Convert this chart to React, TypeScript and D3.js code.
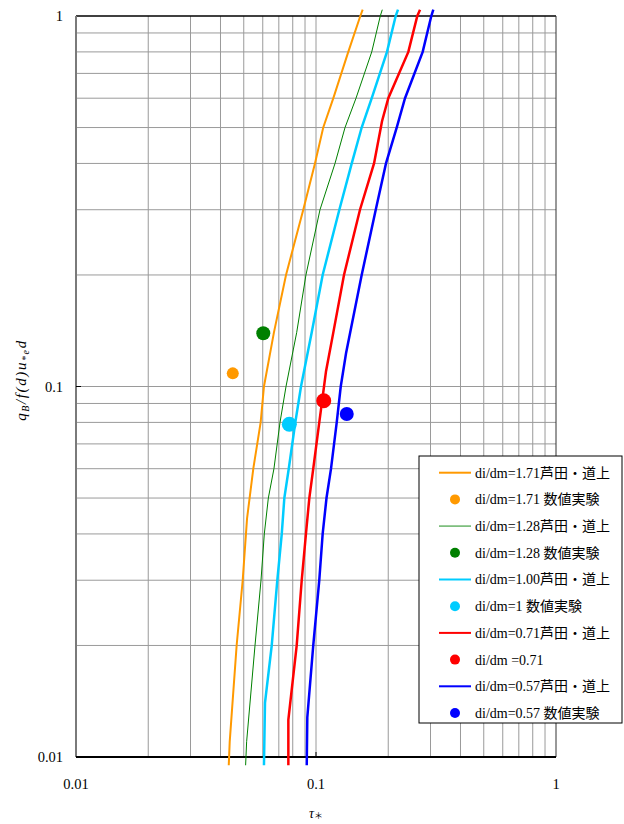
import React from "react";
import * as d3 from "d3";

// Ashida–Michiue curves for each di/dm ratio (τ*, qB/f(d)u*e d)
const TAU_171 = [0.0433, 0.0437, 0.0467, 0.0495, 0.0516, 0.0548, 0.0588, 0.0607, 0.0668, 0.075, 0.0885, 0.099, 0.1072, 0.1181, 0.1363, 0.153, 0.1565];
const QB_171 = [0.0095, 0.011, 0.02, 0.03, 0.044, 0.06, 0.08, 0.1, 0.14, 0.2, 0.3, 0.4, 0.5, 0.6, 0.8, 1.0, 1.04];

const TAU_128 = [0.0509, 0.0514, 0.0557, 0.059, 0.0609, 0.0633, 0.0668, 0.0708, 0.075, 0.0831, 0.0908, 0.1039, 0.12, 0.1321, 0.1468, 0.1707, 0.1853, 0.1889];
const QB_128 = [0.0095, 0.011, 0.02, 0.03, 0.04, 0.05, 0.06, 0.08, 0.1, 0.14, 0.2, 0.3, 0.4, 0.5, 0.6, 0.8, 1.0, 1.04];

const TAU_100 = [0.0607, 0.0613, 0.0654, 0.069, 0.072, 0.0738, 0.077, 0.082, 0.0866, 0.096, 0.1066, 0.1251, 0.1409, 0.155, 0.1707, 0.1976, 0.2148, 0.2196];
const QB_100 = [0.0095, 0.014, 0.02, 0.03, 0.04, 0.05, 0.06, 0.08, 0.1, 0.14, 0.2, 0.3, 0.4, 0.5, 0.6, 0.8, 1.0, 1.04];

const TAU_071 = [0.0767, 0.0767, 0.0831, 0.0872, 0.0908, 0.0938, 0.0974, 0.1032, 0.108, 0.1101, 0.1181, 0.1308, 0.1525, 0.1745, 0.1884, 0.2001, 0.2425, 0.2643, 0.2713];
const QB_071 = [0.0095, 0.0126, 0.02, 0.03, 0.04, 0.05, 0.06, 0.08, 0.1, 0.11, 0.14, 0.2, 0.3, 0.4, 0.52, 0.6, 0.8, 1.0, 1.04];

const TAU_057 = [0.0915, 0.092, 0.0974, 0.1032, 0.1066, 0.1106, 0.1155, 0.122, 0.1268, 0.1334, 0.155, 0.1774, 0.1957, 0.2169, 0.2349, 0.2783, 0.3023, 0.3082];
const QB_057 = [0.0095, 0.0128, 0.02, 0.03, 0.04, 0.05, 0.06, 0.08, 0.1, 0.123, 0.2, 0.3, 0.4, 0.5, 0.6, 0.8, 1.0, 1.04];

// Numerical experiment results
const EXP_TAU = [0.045, 0.0603, 0.0774, 0.1077, 0.1343];
const EXP_QB = [0.1085, 0.1392, 0.0791, 0.0915, 0.0843];

const AXIS_TICKS = [0.01, 0.1, 1];
const AXIS_TICK_LABELS = ["0.01", "0.1", "1"];

const LEGEND_LABELS = [
  "di/dm=1.71芦田・道上",
  "di/dm=1.71 数値実験",
  "di/dm=1.28芦田・道上",
  "di/dm=1.28 数値実験",
  "di/dm=1.00芦田・道上",
  "di/dm=1 数値実験",
  "di/dm=0.71芦田・道上",
  "di/dm =0.71",
  "di/dm=0.57芦田・道上",
  "di/dm=0.57 数値実験",
];

const COLORS = ["#FF9900", "#008000", "#00CCFF", "#FF0000", "#0000FF"];
const LINE_WIDTHS = [2, 1, 2.5, 2.5, 2.5];
const DOT_R = [6, 7, 7.5, 7.5, 7];

const W = 624;
const H = 824;
const PL = 76;
const PT = 16;
const PW = 480;
const PH = 741;

const FONT = "'Liberation Serif', 'Times New Roman', 'Noto Sans CJK JP', serif";

export default function App() {
  const x = d3.scaleLog().domain([0.01, 1]).range([PL, PL + PW]);
  const y = d3.scaleLog().domain([0.01, 1]).range([PT + PH, PT]);

  const curves = [
    d3.zip(TAU_171, QB_171),
    d3.zip(TAU_128, QB_128),
    d3.zip(TAU_100, QB_100),
    d3.zip(TAU_071, QB_071),
    d3.zip(TAU_057, QB_057),
  ];
  const line = d3
    .line<number[]>()
    .x((d) => x(d[0]))
    .y((d) => y(d[1]));

  const minors: number[] = [];
  [0.01, 0.1].forEach((base) => {
    for (let k = 2; k <= 9; k++) minors.push(base * k);
  });
  minors.push(0.1);

  const gridColor = "#9a9a9a";

  const legX = 419;
  const legY = 456;
  const legW = 203;
  const legH = 267;
  const rowY0 = 472.7;
  const rowStep = 26.7;

  return (
    <svg
      width={W}
      height={H}
      style={{ position: "absolute", left: 0, top: 0, background: "#fff" }}
      fontFamily={FONT}
    >
      <rect x={0} y={0} width={W} height={H} fill="#fff" />
      {/* grid */}
      <g>
        {minors.map((v, i) => (
          <line key={"gx" + i} x1={x(v)} x2={x(v)} y1={PT} y2={PT + PH} stroke={gridColor} strokeWidth={1} />
        ))}
        {minors.map((v, i) => (
          <line key={"gy" + i} x1={PL} x2={PL + PW} y1={y(v)} y2={y(v)} stroke={gridColor} strokeWidth={1} />
        ))}
      </g>
      {/* frame */}
      <line x1={PL} x2={PL + PW} y1={PT} y2={PT} stroke="#000" strokeWidth={1.5} />
      <line x1={PL + PW} x2={PL + PW} y1={PT} y2={PT + PH} stroke="#333" strokeWidth={1} />
      <line x1={PL} x2={PL} y1={PT} y2={PT + PH} stroke="#7a7a7a" strokeWidth={2} />
      <line x1={PL} x2={PL + PW} y1={PT + PH} y2={PT + PH} stroke="#000" strokeWidth={2} />
      {/* small ticks at decades */}
      <line x1={x(0.1)} x2={x(0.1)} y1={PT + PH} y2={PT + PH - 5} stroke="#000" strokeWidth={1} />
      <line x1={PL} x2={PL + 5} y1={y(0.1)} y2={y(0.1)} stroke="#000" strokeWidth={1} />

      {/* tick labels */}
      {AXIS_TICKS.map((v, i) => (
        <text key={"yl" + i} x={63} y={y(v)} dy="0.35em" textAnchor="end" fontSize={14.5}>
          {AXIS_TICK_LABELS[i]}
        </text>
      ))}
      {AXIS_TICKS.map((v, i) => (
        <text key={"xl" + i} x={x(v)} y={789} textAnchor="middle" fontSize={14.5}>
          {AXIS_TICK_LABELS[i]}
        </text>
      ))}

      {/* axis titles */}
      <text x={x(0.1)} y={818} textAnchor="middle" fontSize={14} fontStyle="italic">
        τ<tspan fontSize={9} dy={1} fontStyle="normal">＊</tspan>
      </text>
      <text
        transform={`translate(26, ${380}) rotate(-90)`}
        textAnchor="middle"
        fontSize={15}
        fontStyle="italic"
        letterSpacing={1.6}
      >
        q<tspan fontSize={10} dy={3}>B</tspan>
        <tspan dy={-3}>/f(d)u</tspan>
        <tspan fontSize={10} dy={3}>*e</tspan>
        <tspan dy={-3}>d</tspan>
      </text>

      {/* curves */}
      {curves.map((c, i) => (
        <path key={"c" + i} d={line(c) || ""} fill="none" stroke={COLORS[i]} strokeWidth={LINE_WIDTHS[i]} />
      ))}

      {/* experiment points */}
      {EXP_TAU.map((t, i) => (
        <circle key={"p" + i} cx={x(t)} cy={y(EXP_QB[i])} r={DOT_R[i]} fill={COLORS[i]} />
      ))}

      {/* legend */}
      <rect x={legX} y={legY} width={legW} height={legH} fill="#fff" stroke="#000" strokeWidth={1} />
      {LEGEND_LABELS.map((lab, i) => {
        const cy = rowY0 + i * rowStep;
        const ci = Math.floor(i / 2);
        const isLine = i % 2 === 0;
        return (
          <g key={"lg" + i}>
            {isLine ? (
              <line x1={439} x2={471} y1={cy} y2={cy} stroke={COLORS[ci]} strokeWidth={ci === 1 ? 1.5 : 2} strokeOpacity={ci === 1 ? 0.6 : 1} />
            ) : (
              <circle cx={455} cy={cy} r={5} fill={COLORS[ci]} />
            )}
            <text x={475} y={cy} dy="0.35em" fontSize={14}>
              {lab}
            </text>
          </g>
        );
      })}
    </svg>
  );
}
